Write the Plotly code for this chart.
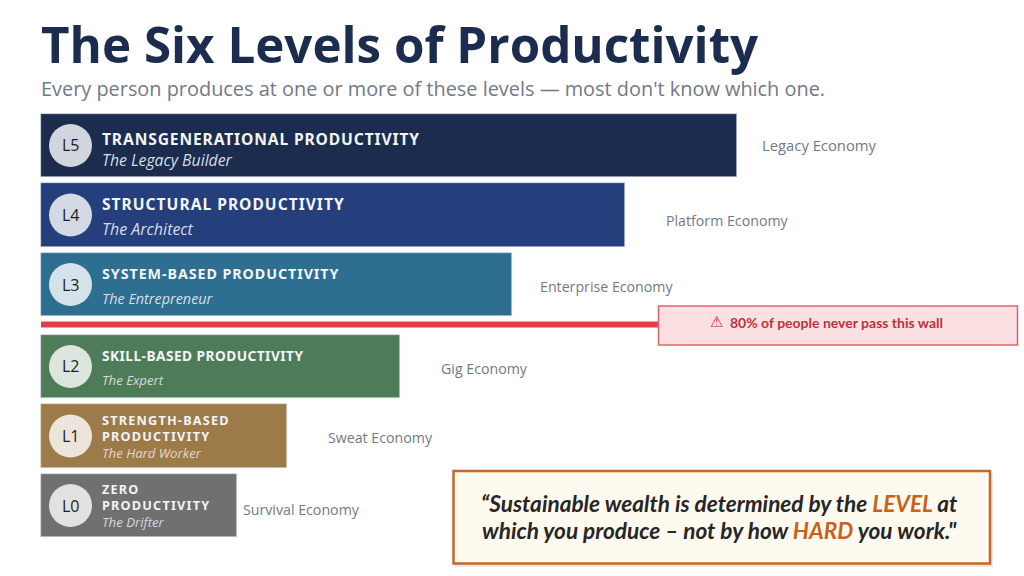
import plotly.graph_objects as go

# Levels, top to bottom
levels = ["L5", "L4", "L3", "L2", "L1", "L0"]
names = [
    ["TRANSGENERATIONAL PRODUCTIVITY"],
    ["STRUCTURAL PRODUCTIVITY"],
    ["SYSTEM-BASED PRODUCTIVITY"],
    ["SKILL-BASED PRODUCTIVITY"],
    ["STRENGTH-BASED", "PRODUCTIVITY"],
    ["ZERO", "PRODUCTIVITY"],
]
roles = [
    "The Legacy Builder",
    "The Architect",
    "The Entrepreneur",
    "The Expert",
    "The Hard Worker",
    "The Drifter",
]
economies = [
    "Legacy Economy",
    "Platform Economy",
    "Enterprise Economy",
    "Gig Economy",
    "Sweat Economy",
    "Survival Economy",
]
bar_values = [100.0, 83.9, 67.7, 51.6, 35.3, 28.1]
rows = [5.18, 4.18, 3.18, 2, 1, 0]

bar_colors = ["#1B2C4F", "#243F7C", "#2E6E91", "#4E7C59", "#9D7B49", "#707070"]
circle_colors = ["#D1D5DE", "#D3D9E5", "#D5E2E9", "#DCE5DE", "#EBE5DB", "#E2E2E2"]

W, H = 1024, 576
PX_PER_UNIT = 6.96
PX_PER_ROW = 69.5
LEFT = 41
ROW0_Y = 505.5


def px_x(px):
    return (px - LEFT) / PX_PER_UNIT


def px_y(py):
    return (ROW0_Y - py) / PX_PER_ROW


fig = go.Figure()

# the bars
fig.add_trace(go.Bar(
    x=bar_values,
    y=rows,
    orientation="h",
    width=0.914,
    marker=dict(color=bar_colors, line=dict(color="#D5DBE4", width=0.6)),
    hoverinfo="skip",
    showlegend=False,
))

# level badges
fig.add_trace(go.Scatter(
    x=[px_x(70.5)] * len(rows),
    y=rows,
    mode="markers",
    marker=dict(size=43, color=circle_colors),
    hoverinfo="skip",
    showlegend=False,
))

annotations = []


def add_text(text, x, y, size, color, family="Open Sans", anchor="left"):
    annotations.append(dict(
        text=text, x=x / W, y=1 - y / H, xref="paper", yref="paper",
        xanchor=anchor, yanchor="middle", showarrow=False, align=anchor,
        borderpad=0,
        font=dict(family=family, size=size, color=color),
    ))


add_text("<b>The Six Levels of Productivity</b>", 40, 44, 49.3, "#1B2C4F")
add_text("Every person produces at one or more of these levels — most don't know which one.",
         40, 89, 19.9, "#727987")

# name and role per bar, offsets differ a bit per row
name_y = [[139], [204], [273.5], [355], [419.5, 436], [488.5, 505]]
name_size = [15.6, 15.6, 14.3, 13.7, 12.7, 12.7]
name_spacing = [0.87, 1.0, 0.92, 0.46, 1.2, 1.2]
role_y = [160, 229, 298, 380, 453, 522]
role_size = [15.8, 16, 14.4, 13.2, 13.2, 13.2]
role_colors = ["#D8DCE2", "#D8DCE2", "#D8DFE4", "#D4DDD6", "#E0D8CA", "#D8D8D8"]
economy_x = [761, 665, 539, 440, 327, 242]
economy_y = [145, 220, 286, 368, 437, 509]
economy_size = [14.8, 14.2, 14.2, 14.2, 14.2, 14.2]
badge_y = [145, 215, 285, 366, 436, 506]

for i in range(len(levels)):
    add_text(levels[i], 70.5, badge_y[i], 16, "#1E1E1E", "Open Sans", "center")
    for line, y in zip(names[i], name_y[i]):
        styled = "<b><span style='letter-spacing:%spx'>%s</span></b>" % (name_spacing[i], line)
        add_text(styled, 101, y, name_size[i], "#F2F4F6", "Noto Sans")
    add_text("<i>" + roles[i] + "</i>", 101, role_y[i], role_size[i], role_colors[i])
    add_text(economies[i], economy_x[i], economy_y[i], economy_size[i], "#727987")

# the wall
wall_py = 324.5
shapes = [
    dict(type="line", xref="x", yref="y", x0=0, x1=px_x(658), y0=px_y(wall_py), y1=px_y(wall_py),
         line=dict(color="#DF4144", width=6)),
    dict(type="rect", xref="paper", yref="paper", x0=658.5 / W, x1=1017.5 / W,
         y0=1 - 345 / H, y1=1 - 306 / H, fillcolor="#FDE0E2", line=dict(color="#E4606C", width=1.5)),
    # soft shadow under the quote box
    dict(type="rect", xref="paper", yref="paper", x0=455 / W, x1=993 / W,
         y0=1 - 567 / H, y1=1 - 473 / H, fillcolor="rgba(120,120,120,0.18)", line=dict(width=0)),
    dict(type="rect", xref="paper", yref="paper", x0=453.5 / W, x1=990 / W,
         y0=1 - 563.5 / H, y1=1 - 471 / H, fillcolor="#FFFAEF", line=dict(color="#C4682A", width=2.5)),
]
add_text("⚠", 716, 322, 15, "#C0303A", "DejaVu Sans", "center")
add_text("<b>80% of people never pass this wall</b>", 836, 322.5, 14, "#C0303A", "Lato", "center")

accent = "<span style='color:#C8621B'>%s</span>"
quote_lines = [
    "<b><i>“Sustainable wealth is determined by the " + accent % "LEVEL" + " at</i></b>",
    "<b><i>which you produce – not by how " + accent % "HARD" + " you work.\"</i></b>",
]
add_text(quote_lines[0], 719.5, 503, 22.6, "#262626", "Lato", "center")
add_text(quote_lines[1], 719.5, 530, 22.6, "#262626", "Lato", "center")

fig.update_layout(
    width=W,
    height=H,
    margin=dict(l=0, r=0, t=0, b=0),
    paper_bgcolor="white",
    plot_bgcolor="white",
    xaxis=dict(range=[px_x(0), px_x(W)], visible=False, fixedrange=True),
    yaxis=dict(range=[px_y(H), px_y(0)], visible=False, fixedrange=True),
    annotations=annotations,
    shapes=shapes,
    bargap=0,
)

fig.write_html("out.html", config={"displayModeBar": False},
               post_script="document.body.style.margin='0';")
